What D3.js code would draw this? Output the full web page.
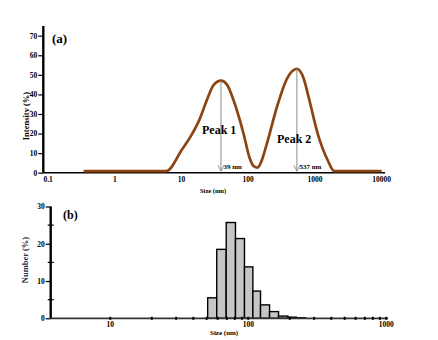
<!DOCTYPE html>
<html>
<head>
<meta charset="utf-8">
<script src="https://cdn.jsdelivr.net/npm/d3@7"></script>
<style>
  html, body { margin: 0; padding: 0; background: #fff; }
  svg { display: block; }
  text { font-family: "Liberation Serif", "Times New Roman", serif; font-weight: bold; }
</style>
</head>
<body>
<svg id="chart" width="438" height="340"></svg>
<script>
// ---- (a) intensity distribution ----
const intensitySize = [0.34, 5.9, 10.2, 14.5, 18.5, 23.3, 30.2, 39, 48, 60.3, 85, 105, 122, 137, 152, 191, 270, 380, 537, 680, 800, 1100, 1550, 1950, 10000];
const intensityVal  = [0.8, 0.8, 12, 20, 27, 36, 44.7, 47, 45, 37, 20, 7.5, 3.2, 2.6, 4.5, 15, 33.7, 48, 53, 48, 39, 20, 6.5, 0.8, 0.8];
const peakNames = ["Peak 1", "Peak 2"];
const peakSize  = [39, 537];
const peakVal   = [47, 53];
const topXTicks = [0.1, 1, 10, 100, 1000, 10000];
const topYTicks = [0, 10, 20, 30, 40, 50, 60, 70];

// ---- (b) number distribution (log-spaced bins) ----
const binLow  = [50.8, 59.1, 69.2, 80.8, 93.9, 108, 122.7, 142.7, 165.8, 193.7, 222.8];
const binHigh = [59.1, 69.2, 80.8, 93.9, 108, 122.7, 142.7, 165.8, 193.7, 222.8, 260];
const numberVal = [5.5, 18.5, 25.7, 21.4, 13.8, 7.3, 3.6, 1.8, 0.6, 0.3, 0.15];
const botXLabels = [10, 100, 1000];
const botXMinor = [20, 30, 40, 50, 60, 70, 80, 90, 200, 300, 400, 500, 600, 700, 800, 900];
const botYTicks = [0, 10, 20, 30];
const botYMinor = [5, 15, 25];

const svg = d3.select("#chart");
const brown = "#8b4513";

// ================= panel (a) =================
const xa = d3.scaleLog().domain([0.0845, 11250]).range([43.3, 385]);
const ya = d3.scaleLinear().domain([0, 70]).range([172.7, 35.7]);

const gA = svg.append("g");

// x axis line (no ticks, labels only)
gA.append("line").attr("x1", xa.range()[0]).attr("x2", xa.range()[1])
  .attr("y1", ya(0)).attr("y2", ya(0)).attr("stroke", "#000").attr("stroke-width", 1.4);
gA.selectAll("text.xt").data(topXTicks).join("text").attr("class", "xt")
  .attr("x", d => xa(d)).attr("y", 182).attr("text-anchor", "middle")
  .attr("font-size", 7.5).text(d => d);

// y axis
const yAxisA = d3.axisLeft(ya).tickValues(topYTicks).tickSize(5).tickPadding(1);
const yA = gA.append("g").attr("transform", `translate(${xa.range()[0]},0)`).call(yAxisA);
yA.select(".domain").attr("stroke-width", 2.4).attr("d", `M0,26V${ya(0)}`);
yA.selectAll(".tick line").attr("stroke-width", 1.2);
yA.selectAll(".tick text").attr("font-size", 7.5).attr("font-family", "Liberation Serif").attr("font-weight", "bold");

gA.append("text").attr("transform", `translate(29,116) rotate(-90)`)
  .attr("text-anchor", "middle").attr("font-size", 8.5).text("Intensity (%)");
gA.append("text").attr("x", 52).attr("y", 43).attr("font-size", 13).text("(a)");
gA.append("text").attr("x", 200).attr("y", 193).attr("font-size", 6.5).text("Size (nm)");

// intensity curve
gA.append("path").datum(intensitySize.map((s, i) => [s, intensityVal[i]]))
  .attr("d", d3.line().x(d => xa(d[0])).y(d => ya(d[1])).curve(d3.curveMonotoneX))
  .attr("fill", "none").attr("stroke", brown).attr("stroke-width", 2.7)
  .attr("stroke-linejoin", "round");

// peak markers: gray arrows from the peak down to the axis
peakSize.forEach((s, i) => {
  const x = xa(s), yTop = ya(peakVal[i]), yBot = ya(0) - 1.5;
  gA.append("line").attr("x1", x).attr("x2", x).attr("y1", yTop).attr("y2", yBot)
    .attr("stroke", "#8c8c8c").attr("stroke-width", 1);
  gA.append("path").attr("d", `M${x - 3},${yBot - 6}L${x},${yBot}L${x + 3},${yBot - 6}`)
    .attr("fill", "none").attr("stroke", "#8c8c8c").attr("stroke-width", 0.9);
  gA.append("text").attr("x", x + 2.5).attr("y", 169).attr("font-size", 7).text(s + " nm");
});
gA.append("text").attr("x", 202).attr("y", 134).attr("font-size", 12).text(peakNames[0]);
gA.append("text").attr("x", 277).attr("y", 143).attr("font-size", 12).text(peakNames[1]);

// ================= panel (b) =================
const xb = d3.scaleLog().domain([3.7, 1030]).range([50.7, 388]);
const yb = d3.scaleLinear().domain([0, 30]).range([318.3, 206.5]);

const gB = svg.append("g");

// bars
gB.selectAll("rect.bar").data(numberVal).join("rect").attr("class", "bar")
  .attr("x", (d, i) => xb(binLow[i])).attr("width", (d, i) => xb(binHigh[i]) - xb(binLow[i]))
  .attr("y", d => yb(d)).attr("height", d => yb(0) - yb(d))
  .attr("fill", "#c6c6c6").attr("stroke", "#000").attr("stroke-width", 1.4);

// x axis
gB.append("line").attr("x1", xb.range()[0]).attr("x2", xb.range()[1])
  .attr("y1", yb(0)).attr("y2", yb(0)).attr("stroke", "#333").attr("stroke-width", 1.8);
gB.selectAll("rect.tk").data(botXLabels.concat(botXMinor)).join("rect").attr("class", "tk")
  .attr("x", d => xb(d) - 1).attr("y", yb(0) - 1.5).attr("width", 2).attr("height", 3).attr("fill", "#000");
gB.selectAll("text.xt").data(botXLabels).join("text").attr("class", "xt")
  .attr("x", d => xb(d)).attr("y", 327).attr("text-anchor", "middle")
  .attr("font-size", 7.5).text(d => d);

// y axis
const yAxisB = d3.axisLeft(yb).tickValues(botYTicks).tickSize(5).tickPadding(1);
const yB = gB.append("g").attr("transform", `translate(${xb.range()[0]},0)`).call(yAxisB);
yB.select(".domain").attr("stroke-width", 2.4).attr("d", `M0,${yb(30)}V${yb(0)}`);
yB.selectAll(".tick line").attr("stroke-width", 1.2);
yB.selectAll(".tick text").attr("font-size", 7.5).attr("font-family", "Liberation Serif").attr("font-weight", "bold");
gB.selectAll("line.ym").data(botYMinor).join("line").attr("class", "ym")
  .attr("x1", xb.range()[0] - 3).attr("x2", xb.range()[0] + 3)
  .attr("y1", d => yb(d)).attr("y2", d => yb(d)).attr("stroke", "#000").attr("stroke-width", 1.2);

gB.append("text").attr("transform", `translate(28,260) rotate(-90)`)
  .attr("text-anchor", "middle").attr("font-size", 8.5).attr("fill", "#2a2a40").text("Number (%)");
gB.append("text").attr("x", 63).attr("y", 219).attr("font-size", 12).text("(b)");
gB.append("text").attr("x", 210).attr("y", 335).attr("font-size", 7).text("Size (nm)");
</script>
</body>
</html>
